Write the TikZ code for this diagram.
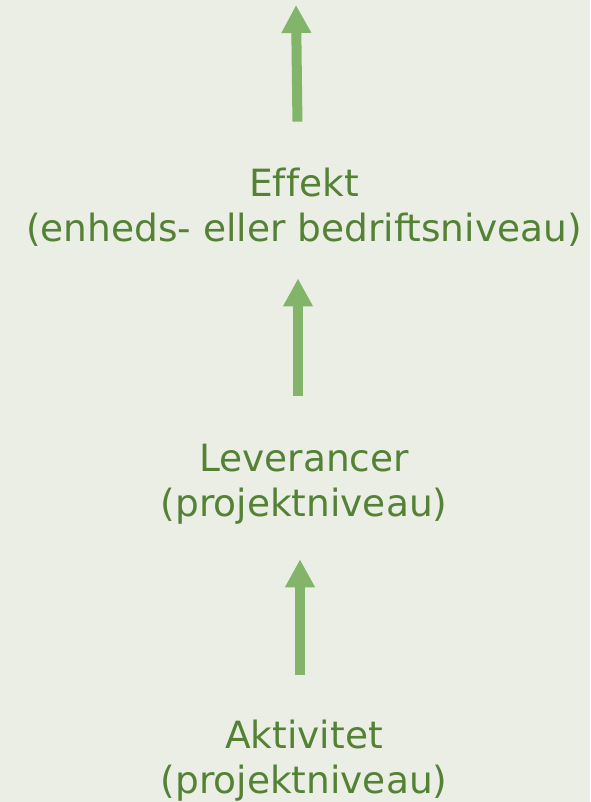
\documentclass[tikz,border=0pt]{standalone}
\usepackage{fontspec}
\setmainfont[Ligatures=NoCommon]{DejaVu Sans}
\usepackage{xcolor}
\usetikzlibrary{arrows.meta}
\usetikzlibrary{calc,positioning}
\definecolor{bgcolor}{RGB}{235,238,229}
\definecolor{textcolor}{RGB}{84,130,53}
\definecolor{arrowcolor}{RGB}{130,181,106}
\tikzset{%
  >={Triangle[width=28pt,length=28pt]},
  % Specifications for style of nodes:
  level/.style = {text=textcolor, align=center,
    font=\fontsize{37.5}{45}\selectfont, inner sep=0pt},
  flow/.style = {draw=arrowcolor, line width=10pt, ->},
}

\begin{document}
\begin{tikzpicture}[x=1pt, y=-1pt]
        \fill[bgcolor] (0,0) rectangle (590,802);
        \useasboundingbox (0,0) rectangle (590,802);
        % Specification of nodes (position, etc.)
        \node(Effekt)[level] at (304,207){Effekt \\ (enheds- eller bedriftsniveau)};
        \node(Lev)[level] at (304,484){Leverancer \\ (projektniveau)};
        \node(Akt)[level] at (304,761){Aktivitet \\ (projektniveau)};
        \coordinate(Top) at (296,5);
        \draw[flow,shorten <=45pt,shorten >=35pt](Akt.north -| 300,0) -- (Lev.south -| 300,0);
        \draw[flow,shorten <=48pt,shorten >=32pt](Lev.north -| 298,0) -- (Effekt.south -| 298,0);
        \draw[flow,shorten <=46pt](Effekt.north -| 298,0) -- (Top);
    \end{tikzpicture}
\end{document}
